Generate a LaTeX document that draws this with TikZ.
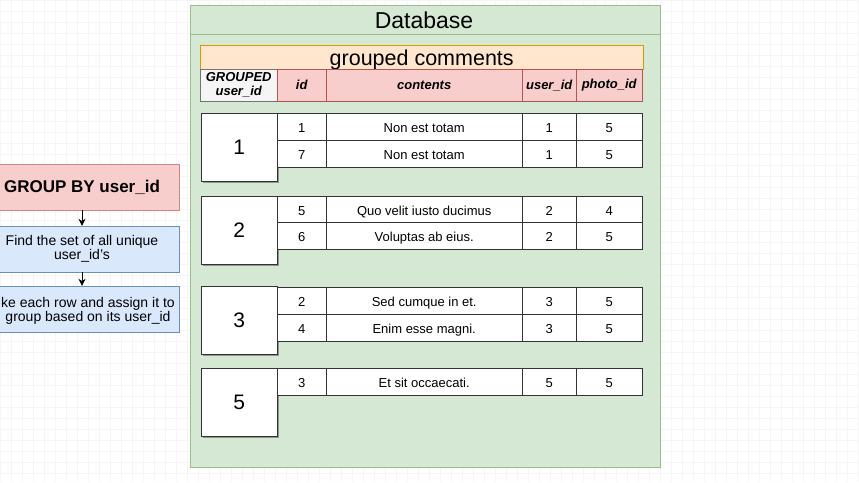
\documentclass[tikz,border=0pt]{standalone}
\usepackage{fontspec}
\setmainfont{Liberation Sans}
\definecolor{dbGreen}{HTML}{D5E8D4}
\definecolor{dbGreenLine}{HTML}{9CBC8C}
\definecolor{tblOrange}{HTML}{FFE6CC}
\definecolor{tblOrangeLine}{HTML}{D79B00}
\definecolor{hdrRed}{HTML}{F8CECC}
\definecolor{hdrRedLine}{HTML}{B85450}
\definecolor{stepBlue}{HTML}{DAE8FC}
\definecolor{stepBlueLine}{HTML}{6C8EBF}
\usetikzlibrary{arrows.meta, positioning, shadows}

\begin{document}
\begin{tikzpicture}[x=1pt, y=-1pt,
    cell/.style={draw=black!80, fill=white, anchor=north west, inner sep=0pt,
      minimum height=26.5pt, text height=12pt, text depth=0pt, font=\fontsize{13}{15}\selectfont},
    hdr/.style={draw=hdrRedLine, fill=hdrRed, anchor=north west, inner sep=0pt,
      minimum height=32pt, align=center, font=\fontsize{13}{14}\selectfont\bfseries\itshape},
    groupbox/.style={draw=black!80, fill=white, anchor=north west, inner sep=0pt,
      minimum width=76pt, minimum height=68pt, font=\fontsize{21}{24}\selectfont,
      drop shadow={shadow xshift=1.5pt, shadow yshift=-1.5pt, opacity=0.35, fill=black}},
    stepbox/.style={minimum width=194pt, minimum height=46pt, inner sep=0pt, align=center,
      font=\fontsize{14}{14.5}\selectfont},
    flow/.style={-{Stealth[length=7pt, width=7pt]}, thick}]
  \useasboundingbox (0,0) rectangle (859,482);

  % Canvas grid
  \fill[white] (0,0) rectangle (859,482);
  \foreach \g in {0,11,...,858} \draw[black!4, line width=0.5pt] (\g,0) -- (\g,482);
  \foreach \g in {0,11,...,481} \draw[black!4, line width=0.5pt] (0,\g) -- (859,\g);

  % Database container
  \draw[dbGreenLine, fill=dbGreen, line width=1pt] (190,5) rectangle (660,467);
  \draw[dbGreenLine, line width=1pt] (190,34) -- (660,34);
  \node[font=\fontsize{23}{26}\selectfont] (dbtitle) at (424,20) {Database};

  % Table title and header
  \node[draw=tblOrangeLine, fill=tblOrange, anchor=north west, minimum width=443pt,
    minimum height=24pt, inner sep=0pt, text height=17pt, text depth=0pt,
    font=\fontsize{21.5}{24}\selectfont] (tbltitle) at (200,45) {grouped comments};
  \node[hdr, draw=black!55, fill=black!4, minimum width=77pt] (hgroup) at (200,69) {GROUPED\\user\_id};
  \node[hdr, minimum width=49pt] (hid) at (277,69) {id};
  \node[hdr, minimum width=196pt] (hcontents) at (326,69) {contents};
  \node[hdr, minimum width=54pt] (huser) at (522,69) {user\_id};
  \node[hdr, minimum width=66pt] (hphoto) at (576,69) {photo\_id};

  % Groups
  \node[groupbox] (g1) at (201,113) {1};
  \node[groupbox] (g2) at (201,196) {2};
  \node[groupbox] (g3) at (201,286) {3};
  \node[groupbox] (g5) at (201,368) {5};

  % Rows
  \foreach \y/\a/\b/\c/\d [count=\i] in {113/1/Non est totam/1/5, 140/7/Non est totam/1/5,
      196/5/Quo velit iusto ducimus/2/4, 222/6/Voluptas ab eius./2/5,
      287/2/Sed cumque in et./3/5, 314/4/Enim esse magni./3/5,
      368/3/Et sit occaecati./5/5} {
    \node[cell, minimum width=49pt] (rid\i) at (277,\y) {\a};
    \node[cell, minimum width=196pt] (rtext\i) at (326,\y) {\b};
    \node[cell, minimum width=54pt] (ruser\i) at (522,\y) {\c};
    \node[cell, minimum width=66pt] (rphoto\i) at (576,\y) {\d};
  }

  % Steps
  \node[stepbox, draw=hdrRedLine!70, fill=hdrRed, font=\fontsize{17}{20}\selectfont\bfseries]
    (groupby) at (82,187) {GROUP BY user\_id};
  \node[stepbox, draw=stepBlueLine, fill=stepBlue] (findset) at (82,249)
    {Find the set of all unique\\user\_id's};
  \node[stepbox, draw=stepBlueLine, fill=stepBlue] (assign) at (82,309) {};
  \node[font=\fontsize{14}{14.5}\selectfont, align=center] (assigntext) at (88,311)
    {ke each row and assign it to\\group based on its user\_id};
  \draw[flow] (groupby) -- (findset);
  \draw[flow] (findset) -- (assign);
\end{tikzpicture}
\end{document}
